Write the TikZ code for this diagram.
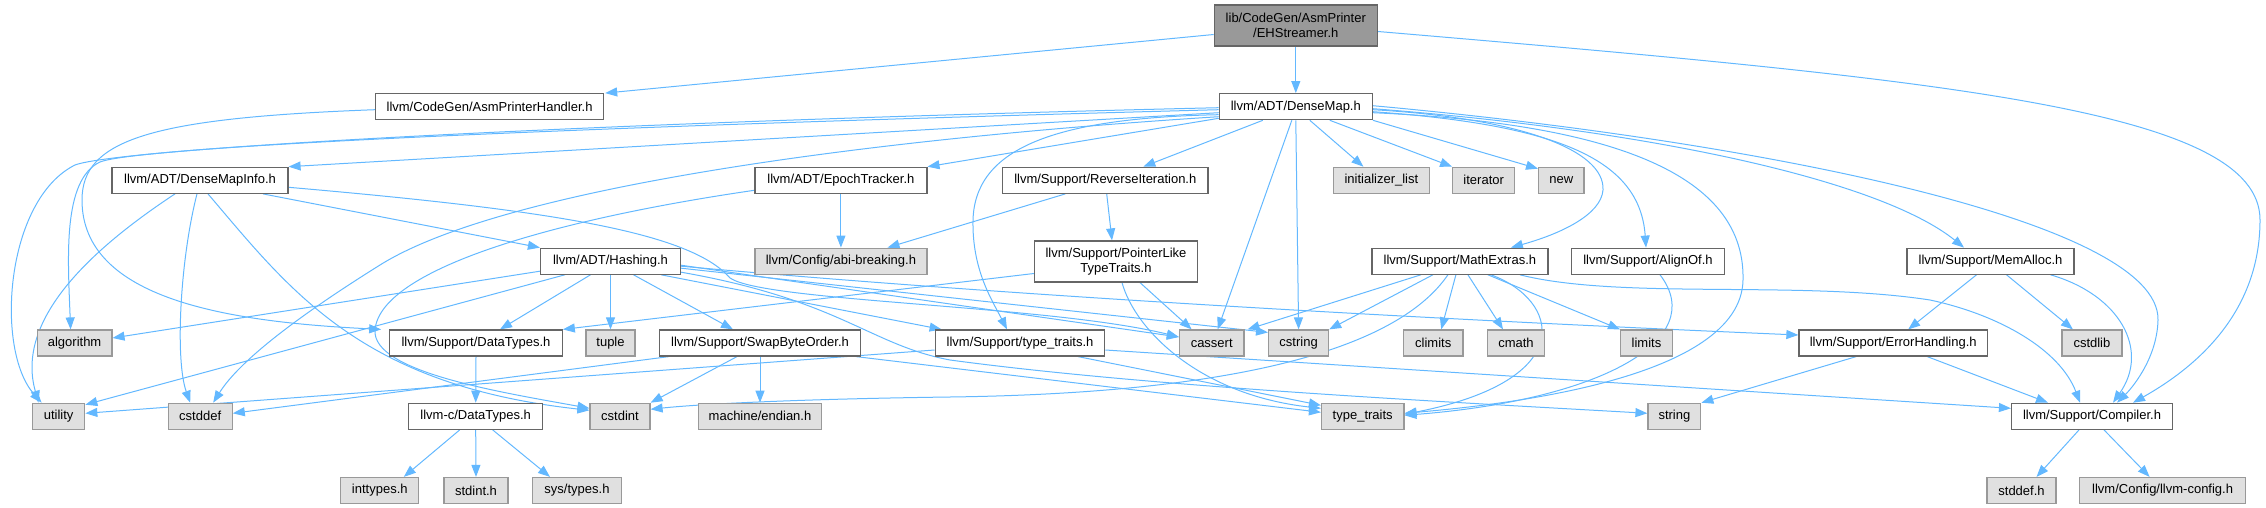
\documentclass[tikz,border=0pt]{standalone}
\usepackage{fontspec}
\setmainfont{Liberation Sans}
\usetikzlibrary{arrows.meta,calc}
\definecolor{edgec}{HTML}{63B8FF}
\definecolor{bordc}{HTML}{666666}
\definecolor{sysb}{HTML}{999999}
\definecolor{sysf}{HTML}{E0E0E0}
\definecolor{rootf}{HTML}{999999}
\pgfdeclarelayer{bg}
\pgfsetlayers{bg,main}
\begin{document}
\begin{tikzpicture}[x=1pt,y=-1pt,
  base/.style={draw, line width=1.2pt, inner sep=0pt, minimum height=26pt, align=center, font=\fontsize{13}{15}\selectfont},
  hdr/.style={base, draw=bordc, fill=white},
  sys/.style={base, draw=sysb, fill=sysf},
  rootbox/.style={base, draw=bordc, fill=rootf, minimum height=41pt},
  two/.style={hdr, minimum height=41pt},
  edge/.style={draw=edgec, line width=1pt, -{Triangle[length=12pt,width=9pt]}},
]
\useasboundingbox (0,0) rectangle (2266,508);
% nodes
\node[rootbox, minimum width=163pt] (root) at (1295.8,25.5) {lib/CodeGen/AsmPrinter\\/EHStreamer.h};
\node[hdr, minimum width=228pt] (aph) at (489.6,106.7) {llvm/CodeGen/AsmPrinterHandler.h};
\node[hdr, minimum width=153pt] (dm) at (1295.8,106.7) {llvm/ADT/DenseMap.h};
\node[hdr, minimum width=176pt] (dmi) at (200,180.3) {llvm/ADT/DenseMapInfo.h};
\node[hdr, minimum width=172pt] (epoch) at (840.9,180.3) {llvm/ADT/EpochTracker.h};
\node[hdr, minimum width=205.5pt] (revit) at (1105.3,180.3) {llvm/Support/ReverseIteration.h};
\node[sys, minimum width=96.5pt] (initl) at (1381.4,180.3) {initializer\_list};
\node[sys, minimum width=62pt] (iter) at (1483.7,180.3) {iterator};
\node[sys, minimum width=45.4pt] (new) at (1561.3,180.3) {new};
\node[hdr, minimum width=140pt] (hashing) at (610.5,261.2) {llvm/ADT/Hashing.h};
\node[sys, minimum width=172pt] (abi) at (840.9,261.2) {llvm/Config/abi-breaking.h};
\node[two, minimum width=163pt] (ptl) at (1116,261.5) {llvm/Support/PointerLike\\TypeTraits.h};
\node[hdr, minimum width=176pt] (math) at (1459.9,261.2) {llvm/Support/MathExtras.h};
\node[hdr, minimum width=152.4pt] (align) at (1648,261.2) {llvm/Support/AlignOf.h};
\node[hdr, minimum width=167pt] (memalloc) at (1990.5,261.2) {llvm/Support/MemAlloc.h};
\node[sys, minimum width=74.7pt] (algorithm) at (74.6,343) {algorithm};
\node[hdr, minimum width=172.5pt] (dts) at (476,343) {llvm/Support/DataTypes.h};
\node[sys, minimum width=49pt] (tuple) at (610.5,343) {tuple};
\node[hdr, minimum width=200.8pt] (swap) at (760,343) {llvm/Support/SwapByteOrder.h};
\node[hdr, minimum width=169.6pt] (stt) at (1020,343) {llvm/Support/type\_traits.h};
\node[sys, minimum width=64.5pt] (cassert) at (1211.7,343) {cassert};
\node[sys, minimum width=60pt] (cstring) at (1298.6,343) {cstring};
\node[sys, minimum width=59.6pt] (climits) at (1433.2,343) {climits};
\node[sys, minimum width=57pt] (cmath) at (1516,343) {cmath};
\node[sys, minimum width=51.8pt] (limits) at (1646.5,343) {limits};
\node[hdr, minimum width=188.5pt] (err) at (1893.2,343) {llvm/Support/ErrorHandling.h};
\node[sys, minimum width=60pt] (cstdlib) at (2091.9,343) {cstdlib};
\node[sys, minimum width=52.3pt] (utility) at (58.6,416.3) {utility};
\node[sys, minimum width=64pt] (cstddef) at (200.2,416.3) {cstddef};
\node[hdr, minimum width=134.3pt] (dtc) at (475.7,416.3) {llvm-c/DataTypes.h};
\node[sys, minimum width=60pt] (cstdint) at (620,416.3) {cstdint};
\node[sys, minimum width=123pt] (endian) at (760,416.3) {machine/endian.h};
\node[sys, minimum width=82.4pt] (tt) at (1362.7,416.3) {type\_traits};
\node[sys, minimum width=52.8pt] (string) at (1674.4,416.3) {string};
\node[hdr, minimum width=161pt] (comp) at (2092,416.3) {llvm/Support/Compiler.h};
\node[sys, minimum width=78pt] (inttypes) at (379.8,490.5) {inttypes.h};
\node[sys, minimum width=64pt] (stdint) at (476,490.5) {stdint.h};
\node[sys, minimum width=88.7pt] (systypes) at (577,490.5) {sys/types.h};
\node[sys, minimum width=69pt] (stddef) at (2021.5,490.5) {stddef.h};
\node[sys, minimum width=165.6pt] (llvmconfig) at (2162.6,490.5) {llvm/Config/llvm-config.h};
% edges
\begin{pgfonlayer}{bg}
\draw[edge] ($(root.west)+(0,9)$) -- ($(aph.north east)+(1,0)$);
\draw[edge] (root.south) -- (dm.north);
\draw[edge] ($(root.east)+(0,6)$) .. controls (1950,80) and (2260,110) .. (2260,220) .. controls (2260,310) and (2200,365) .. ($(comp.north)+(41,0)$);
\draw[edge] ($(aph.west)+(0,3)$) .. controls (150,118) and (82,140) .. (82,200) .. controls (82,300) and (230,322) .. ($(dts.north west)+(-8,0)$);
% DenseMap
\draw[edge] ($(dm.west)+(0,6)$) -- (dmi.north east);
\draw[edge] ($(dm.west)+(0,1)$) .. controls (600,122) and (120,148) .. (75,165) .. controls (5,200) and (-5,350) .. ($(utility.north)+(-17,0)$);
\draw[edge] ($(dm.west)+(0,3)$) .. controls (600,126) and (140,146) .. (100,162) .. controls (62,180) and (68,260) .. ($(algorithm.north)+(-4,0)$);
\draw[edge] ($(dm.west)+(0,10)$) .. controls (850,140) and (500,190) .. (380,265) .. controls (300,315) and (240,360) .. ($(cstddef.north)+(13,0)$);
\draw[edge] ($(dm.south west)+(0,-2)$) -- (epoch.north east);
\draw[edge] ($(dm.west)+(0,8)$) .. controls (1050,118) and (975,150) .. (973,220) .. controls (972,270) and (992,300) .. ($(stt.north)+(-13,0)$);
\draw[edge] ($(dm.south)+(-33,0)$) -- ($(revit.north)+(38,0)$);
\draw[edge] ($(dm.south)+(-4,0)$) -- ($(cassert.north)+(6,0)$);
\draw[edge] (dm.south) -- (cstring.north);
\draw[edge] ($(dm.south)+(14,0)$) -- ($(initl.north)+(-18,0)$);
\draw[edge] ($(dm.south)+(34,0)$) -- (iter.north west);
\draw[edge] (dm.south east) -- ($(new.north west)+(0,2)$);
\draw[edge] ($(dm.east)+(0,3)$) .. controls (1520,118) and (1605,150) .. (1603,190) .. controls (1601,215) and (1560,234) .. ($(math.north)+(51,0)$);
\draw[edge] ($(dm.east)+(0,5)$) .. controls (1560,125) and (1640,160) .. ($(align.north)+(-2,0)$);
\draw[edge] ($(dm.east)+(0,6)$) .. controls (1650,125) and (1745,190) .. (1743,280) .. controls (1741,380) and (1500,405) .. ($(tt.east)+(0,-3)$);
\draw[edge] ($(dm.east)+(0,2)$) .. controls (1650,130) and (1880,180) .. ($(memalloc.north)+(-26.5,0)$);
\draw[edge] ($(dm.east)+(0,-1)$) .. controls (1750,140) and (2160,220) .. (2158,320) .. controls (2157,360) and (2130,390) .. ($(comp.north)+(25,0)$);
% DenseMapInfo
\draw[edge] ($(dmi.south)+(63,0)$) -- (hashing.north west);
\draw[edge] ($(dmi.south)+(-25,0)$) .. controls (90,250) and (15,320) .. ($(utility.north)+(-20,0)$);
\draw[edge] ($(dmi.south)+(-3,0)$) .. controls (180,260) and (175,360) .. ($(cstddef.north)+(-10,0)$);
\draw[edge] ($(dmi.south)+(8,0)$) .. controls (290,290) and (360,385) .. ($(cstdint.west)+(0,-6)$);
\draw[edge] ($(dmi.east)+(0,7)$) .. controls (550,210) and (690,232) .. (730,278) .. controls (765,302) and (1050,305) .. ($(cassert.west)+(0,-6)$);
% EpochTracker
\draw[edge] (epoch.south) -- (abi.north);
\draw[edge] ($(epoch.west)+(0,10)$) .. controls (550,220) and (380,270) .. (375,330) .. controls (372,372) and (500,392) .. ($(cstdint.west)+(0,-8)$);
% ReverseIteration
\draw[edge] ($(revit.south)+(-40,0)$) -- ($(abi.north east)+(-40,0)$);
\draw[edge] ($(revit.south)+(1.4,0)$) -- ($(ptl.north)+(-4,0)$);
% PointerLikeTypeTraits
\draw[edge] ($(ptl.west)+(0,12)$) -- (dts.north east);
\draw[edge] ($(ptl.south)+(24,0)$) -- ($(cassert.north)+(-20,0)$);
\draw[edge] ($(ptl.south)+(6,0)$) .. controls (1135,330) and (1200,395) .. ($(tt.west)+(0,-8)$);
% Hashing
\draw[edge] ($(hashing.west)+(0,10)$) -- ($(algorithm.east)+(0,-5)$);
\draw[edge] ($(hashing.south west)+(25,0)$) -- ($(utility.north east)+(0,2)$);
\draw[edge] ($(hashing.south)+(-20,0)$) -- ($(dts.north)+(24,0)$);
\draw[edge] (hashing.south) -- (tuple.north);
\draw[edge] ($(hashing.south)+(23,0)$) -- ($(swap.north)+(-27,0)$);
\draw[edge] ($(hashing.south east)+(-20,0)$) -- ($(stt.north west)+(7,0)$);
\draw[edge] ($(hashing.east)+(0,4)$) -- ($(cassert.west)+(0,-6)$);
\draw[edge] ($(hashing.east)+(0,7)$) -- ($(cstring.north west)+(0,3)$);
\draw[edge] ($(hashing.east)+(0,5)$) .. controls (1000,295) and (1400,318) .. ($(err.west)+(0,-8)$);
\draw[edge] ($(hashing.east)+(0,11)$) .. controls (840,300) and (870,345) .. (950,360) .. controls (1150,387) and (1450,402) .. ($(string.west)+(0,-3)$);
% SwapByteOrder
\draw[edge] ($(swap.south west)+(10,0)$) -- ($(cstddef.east)+(0,-3)$);
\draw[edge] ($(swap.south)+(-23,0)$) -- (cstdint.north east);
\draw[edge] (swap.south) -- (endian.north);
\draw[edge] ($(swap.south east)+(-5,0)$) -- ($(tt.west)+(0,-4)$);
% Support/type_traits
\draw[edge] ($(stt.west)+(0,7)$) -- ($(utility.east)+(0,-3)$);
\draw[edge] ($(stt.south)+(58,0)$) -- ($(tt.west)+(0,-11)$);
\draw[edge] ($(stt.east)+(0,7)$) -- ($(comp.west)+(0,-8)$);
% DataTypes
\draw[edge] (dts.south) -- (dtc.north);
\draw[edge] ($(dtc.south)+(-16,0)$) -- ($(inttypes.north)+(24,0)$);
\draw[edge] (dtc.south) -- (stdint.north);
\draw[edge] ($(dtc.south)+(17,0)$) -- ($(systypes.north)+(-27,0)$);
% MathExtras
\draw[edge] ($(math.south)+(-39,0)$) -- ($(cassert.north east)+(3,0)$);
\draw[edge] ($(math.south)+(-27,0)$) -- (cstring.north east);
\draw[edge] ($(math.south)+(-4,0)$) -- ($(climits.north)+(8,0)$);
\draw[edge] ($(math.south)+(8,0)$) -- ($(cmath.north)+(-13,0)$);
\draw[edge] ($(math.south)+(28,0)$) -- (limits.north west);
\draw[edge] ($(math.south)+(31,0)$) .. controls (1560,300) and (1580,380) .. ($(tt.east)+(0,-2)$);
\draw[edge] ($(math.south)+(-12,0)$) .. controls (1400,345) and (1250,393) .. (950,397) .. controls (800,399) and (700,404) .. ($(cstdint.east)+(0,-7)$);
\draw[edge] ($(math.south)+(60,0)$) .. controls (1620,300) and (1800,280) .. (1930,300) .. controls (2000,315) and (2060,350) .. ($(comp.north)+(-12,0)$);
% AlignOf
\draw[edge] ($(align.south)+(12,0)$) .. controls (1710,340) and (1600,400) .. ($(tt.east)+(0,-1)$);
% MemAlloc
\draw[edge] ($(memalloc.south)+(-14,0)$) -- ($(err.north)+(15,0)$);
\draw[edge] ($(memalloc.south)+(16,0)$) -- ($(cstdlib.north)+(-19,0)$);
\draw[edge] ($(memalloc.south)+(60,0)$) .. controls (2120,295) and (2150,350) .. ($(comp.north)+(21,0)$);
% ErrorHandling
\draw[edge] ($(err.south)+(-37,0)$) -- (string.north east);
\draw[edge] ($(err.south)+(34,0)$) -- ($(comp.north)+(-44,0)$);
% Compiler
\draw[edge] ($(comp.south)+(-13,0)$) -- ($(stddef.north)+(15,0)$);
\draw[edge] ($(comp.south)+(12,0)$) -- ($(llvmconfig.north)+(-13,0)$);
\end{pgfonlayer}
\end{tikzpicture}
\end{document}
